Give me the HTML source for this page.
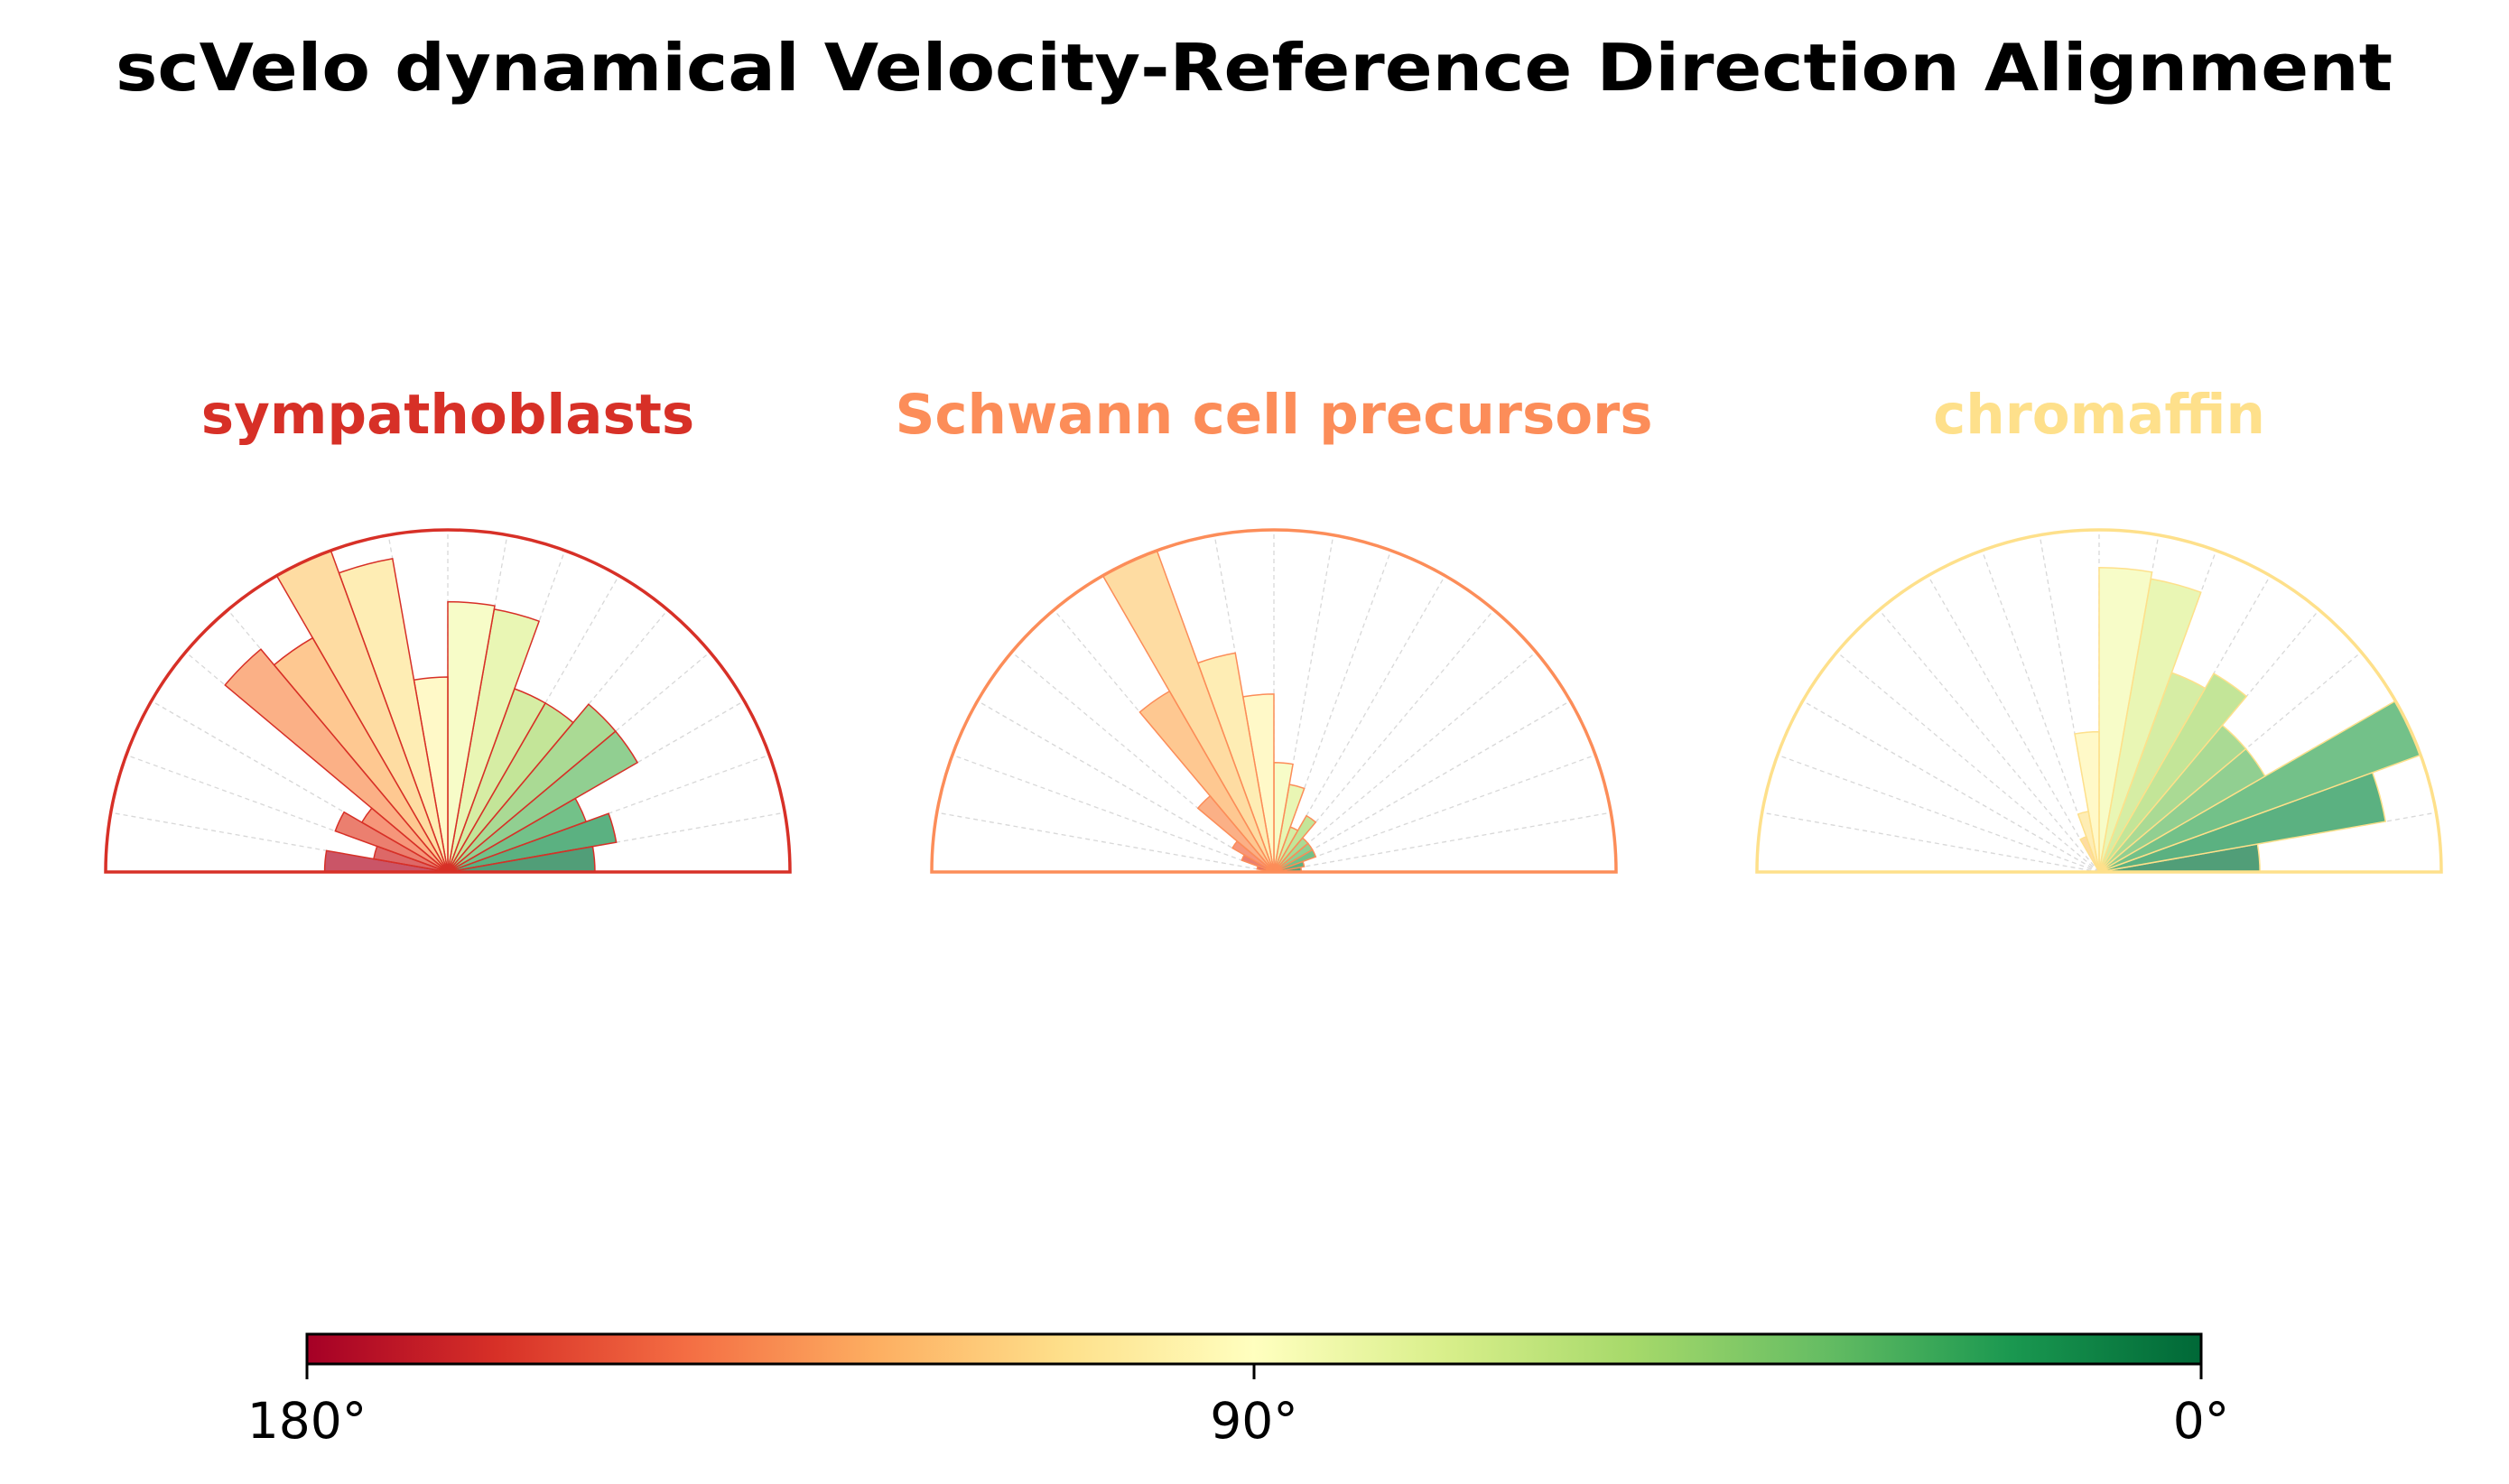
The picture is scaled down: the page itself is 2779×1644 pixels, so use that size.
<!DOCTYPE html>
<html><head><meta charset="utf-8"><style>
html,body{margin:0;padding:0;background:#fff;}
svg{display:block;}
text{font-family:"DejaVu Sans","Liberation Sans",sans-serif;}
</style></head><body>
<svg id="fig" width="2779" height="1644" viewBox="0 0 2779 1644" xmlns="http://www.w3.org/2000/svg">
<defs>
<linearGradient id="cbgrad" x1="0" x2="1" y1="0" y2="0">
<stop offset="0" stop-color="#a50026"/><stop offset="0.1" stop-color="#d73027"/><stop offset="0.2" stop-color="#f46d43"/><stop offset="0.3" stop-color="#fdae61"/><stop offset="0.4" stop-color="#fee08b"/><stop offset="0.5" stop-color="#ffffbf"/><stop offset="0.6" stop-color="#d9ef8b"/><stop offset="0.7" stop-color="#a6d96a"/><stop offset="0.8" stop-color="#66bd63"/><stop offset="0.9" stop-color="#1a9850"/><stop offset="1" stop-color="#006837"/>
</linearGradient>
</defs>
<text x="1389" y="100" text-anchor="middle" font-size="72" font-weight="bold" textLength="2522" lengthAdjust="spacingAndGlyphs">scVelo dynamical Velocity-Reference Direction Alignment</text>
<g id="panels"></g>
<g>
<rect x="340" y="1478" width="2098" height="33" fill="url(#cbgrad)" stroke="#000" stroke-width="3"/>
<line x1="340" y1="1511" x2="340" y2="1528" stroke="#000" stroke-width="3"/>
<line x1="1389" y1="1511" x2="1389" y2="1528" stroke="#000" stroke-width="3"/>
<line x1="2438" y1="1511" x2="2438" y2="1528" stroke="#000" stroke-width="3"/>
<text x="340" y="1593" text-anchor="middle" font-size="55">180°</text>
<text x="1389" y="1593" text-anchor="middle" font-size="55">90°</text>
<text x="2438" y="1593" text-anchor="middle" font-size="55">0°</text>
</g>
</svg>
<script>
// bins: 10° each, from 0° (right) to 180° (left); values relative to panel max
const binEdgesDeg = [0,10,20,30,40,50,60,70,80,90,100,110,120,130,140,150,160,170,180];
const panelNames = ["sympathoblasts","Schwann cell precursors","chromaffin"];
const sympathoblastsValues = [0.43,0.50,0.43,0.64,0.64,0.57,0.57,0.78,0.79,0.57,0.93,1.00,0.79,0.85,0.29,0.35,0.22,0.36];
const schwannValues = [0.08,0.09,0.13,0.13,0.13,0.19,0.14,0.26,0.32,0.52,0.65,1.00,0.61,0.29,0.14,0.10,0.05,0.02];
const chromaffinValues = [0.47,0.85,1.00,0.56,0.56,0.67,0.62,0.87,0.89,0.41,0.18,0.11,0,0,0,0,0,0];

const seriesList=[sympathoblastsValues,schwannValues,chromaffinValues];
const panelColors=["#d73027","#fc8d59","#fee08b"];
const centersX=[496,1411,2325], centerY=966, R=379;
const cmap=["#a50026","#d73027","#f46d43","#fdae61","#fee08b","#ffffbf","#d9ef8b","#a6d96a","#66bd63","#1a9850","#006837"];
function hex(h){return [1,3,5].map(i=>parseInt(h.substr(i,2),16));}
function rdylgn(t){t=Math.max(0,Math.min(1,t));const p=t*10,i=Math.min(9,Math.floor(p)),f=p-i;const a=hex(cmap[i]),b=hex(cmap[i+1]);return "rgb("+a.map((v,k)=>Math.round(v+(b[k]-v)*f)).join(",")+")";}
const NS="http://www.w3.org/2000/svg";
const g=document.getElementById("panels");
function pt(cx,r,deg){const a=deg*Math.PI/180;return [cx+r*Math.cos(a),centerY-r*Math.sin(a)];}
function rScale(v,maxV){return v/maxV*R;}
panelNames.forEach((name,pi)=>{
  const cx=centersX[pi], vals=seriesList[pi], maxV=Math.max(...vals), col=panelColors[pi];
  const pg=document.createElementNS(NS,"g");
  
  
  g.appendChild(pg);
  for(let d=10;d<180;d+=10){
    const p=pt(cx,R,d);
    const ln=document.createElementNS(NS,"line");
    ln.setAttribute("x1",cx);ln.setAttribute("y1",centerY);ln.setAttribute("x2",p[0]);ln.setAttribute("y2",p[1]);
    ln.setAttribute("stroke","#d8d8d8");ln.setAttribute("stroke-width","1.3");ln.setAttribute("stroke-dasharray","5,4");
    
    
    pg.appendChild(ln);
  }
  vals.forEach((v,i)=>{
    if(v<=0) return;
    const a1=binEdgesDeg[i],a2=binEdgesDeg[i+1],r=rScale(v,maxV);
    const p1=pt(cx,r,a1),p2=pt(cx,r,a2);
    const mid=(a1+a2)/2;
    const path=document.createElementNS(NS,"path");
    path.setAttribute("d",`M${cx},${centerY} L${p1[0]},${p1[1]} A${r},${r} 0 0 0 ${p2[0]},${p2[1]} Z`);
    path.setAttribute("fill",rdylgn(1-mid/180));
    path.setAttribute("fill-opacity","0.7");
    path.setAttribute("stroke",col);path.setAttribute("stroke-width","1.5");
    
    
    pg.appendChild(path);
  });
  const outline=document.createElementNS(NS,"path");
  outline.setAttribute("d",`M${cx-R},${centerY} A${R},${R} 0 0 1 ${cx+R},${centerY} Z`);
  outline.setAttribute("fill","none");outline.setAttribute("stroke",col);outline.setAttribute("stroke-width","3.5");
  
  
  pg.appendChild(outline);
  const t=document.createElementNS(NS,"text");
  t.setAttribute("x",cx);t.setAttribute("y",480);t.setAttribute("text-anchor","middle");
  t.setAttribute("font-size","61");t.setAttribute("font-weight","bold");t.setAttribute("fill",col);
  t.textContent=name;
  
  
  pg.appendChild(t);
});
</script>
</body></html>
